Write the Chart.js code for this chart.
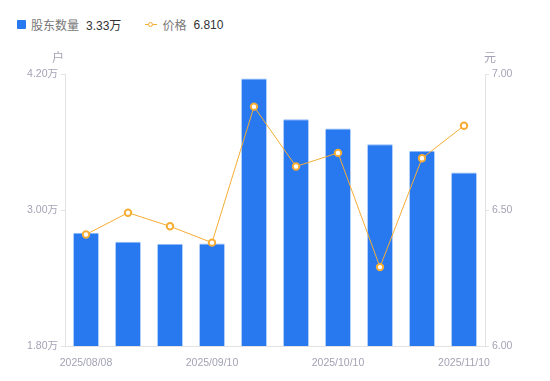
<!DOCTYPE html>
<html><head><meta charset="utf-8">
<script src="https://cdn.jsdelivr.net/npm/chart.js@4/dist/chart.umd.min.js"></script>
<style>
html,body{margin:0;padding:0;background:#fff;}
#wrap{position:relative;width:550px;height:381px;font-family:"Liberation Sans","Noto Sans CJK SC",sans-serif;}
#legend{position:absolute;left:17px;top:16px;font-size:12px;display:flex;align-items:center;white-space:nowrap;}
.item{display:flex;align-items:center;margin-right:24px;}
.sq{width:9px;height:9px;background:#2878F0;border-radius:1px;margin-right:5px;}
.ln{position:relative;width:12px;height:9px;margin-right:5px;}
.ln:before{content:"";position:absolute;left:0;right:0;top:4px;height:1px;background:#F6AD35;}
.ln:after{content:"";position:absolute;left:3px;top:1.5px;width:3px;height:3px;border:1.5px solid #F6AD35;border-radius:50%;background:#fff;}
.nm{color:#777;margin-right:7px;}
.vl{color:#333;}
canvas{position:absolute;left:0;top:0;}
</style></head>
<body><div id="wrap">
<div id="legend">
<div class="item"><span class="sq"></span><span class="nm">股东数量</span><span class="vl">3.33万</span></div>
<div class="item"><span class="ln"></span><span class="nm">价格</span><span class="vl">6.810</span></div>
</div>
<canvas id="c" width="550" height="381"></canvas>
</div>
<script>
const categories = ["2025/08/08","2025/08/20","2025/08/29","2025/09/10","2025/09/19","2025/09/30","2025/10/10","2025/10/20","2025/10/31","2025/11/10"];
const shownLabels = ["2025/08/08","2025/09/10","2025/10/10","2025/11/10"];
const holders = [2.80, 2.72, 2.70, 2.705, 4.16, 3.80, 3.72, 3.58, 3.52, 3.33];
const price = [6.41, 6.49, 6.44, 6.38, 6.88, 6.66, 6.71, 6.29, 6.69, 6.81];
const leftTicks = [1.80, 3.00, 4.20];
const rightTicks = [6.00, 6.50, 7.00];
const leftUnit = "户";
const rightUnit = "元";

const axisColor = "#E3E3E3";
const tickColor = "#A3A3B5";
const font = {family:'"Liberation Sans","Noto Sans CJK SC",sans-serif', size:10.5};

const unitPlugin = {
  id:'units',
  afterDraw(chart){
    const ctx = chart.ctx, a = chart.chartArea;
    ctx.save();
    ctx.font = '12px "Noto Sans CJK SC",sans-serif';
    ctx.fillStyle = tickColor;
    ctx.textBaseline = 'middle';
    ctx.textAlign = 'center';
    ctx.fillText(leftUnit, a.left - 7, a.top - 17);
    ctx.fillText(rightUnit, a.right + 5, a.top - 17);
    ctx.restore();
  }
};

new Chart(document.getElementById('c'), {
  data:{
    labels: categories,
    datasets:[
      {type:'line', label:'价格', data:price, yAxisID:'y1', borderColor:'#F6AD35', borderWidth:1,
       pointRadius:3.2, pointBorderWidth:2, pointBackgroundColor:'#fff', pointBorderColor:'#F6AD35', tension:0, order:0},
      {type:'bar', label:'股东数量', data:holders, yAxisID:'y', backgroundColor:'#2878F0',
       borderColor:'#8CB8F8', borderWidth:{top:1,left:0,right:0,bottom:0}, borderSkipped:false,
       barPercentage:0.6, categoryPercentage:1, order:1}
    ]
  },
  options:{
    responsive:false, animation:false,
    layout:{padding:{top:74,bottom:0,left:0,right:0}},
    plugins:{legend:{display:false}, tooltip:{enabled:false}},
    scales:{
      x:{
        grid:{display:false}, border:{display:true,color:axisColor},
        ticks:{autoSkip:false, maxRotation:0, color:tickColor, font, padding:3,
          callback(v,i){ const l = categories[i]; return shownLabels.includes(l) ? l : ''; }},
        afterFit(s){ s.height = 35; }
      },
      y:{
        position:'left', min:1.8, max:4.2,
        grid:{drawOnChartArea:false, tickLength:4, color:axisColor},
        border:{display:true,color:axisColor},
        ticks:{color:tickColor, font, padding:3, callback:v=>v.toFixed(2)+'万'},
        afterBuildTicks(s){ s.ticks = leftTicks.map(v=>({value:v})); },
        afterFit(s){ s.width = 65; }
      },
      y1:{
        position:'right', min:6, max:7,
        grid:{drawOnChartArea:false, tickLength:4, color:axisColor},
        border:{display:true,color:axisColor},
        ticks:{color:tickColor, font, padding:3, callback:v=>v.toFixed(2)},
        afterBuildTicks(s){ s.ticks = rightTicks.map(v=>({value:v})); },
        afterFit(s){ s.width = 65; }
      }
    }
  },
  plugins:[unitPlugin]
});
</script>
</body></html>
